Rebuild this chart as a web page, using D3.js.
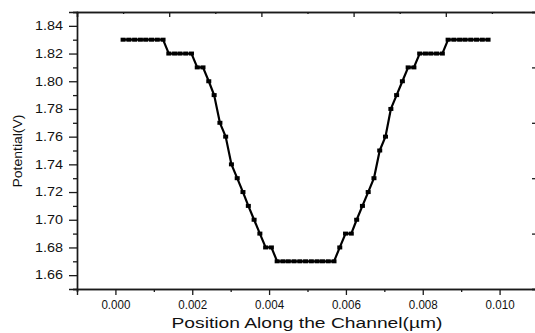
<!DOCTYPE html>
<html>
<head>
<meta charset="utf-8">
<script src="https://cdn.jsdelivr.net/npm/d3@7/dist/d3.min.js"></script>
<style>
  html, body { margin: 0; padding: 0; background: #fff; }
  svg { display: block; }
  text { font-family: "Liberation Sans", Arial, sans-serif; fill: #111; }
</style>
</head>
<body>
<svg id="chart" width="535" height="333"></svg>
<script>
// Channel position (µm) of each simulation node
const positions = [
  0.00020, 0.00035, 0.00050, 0.00065, 0.00079, 0.00094, 0.00109, 0.00124,
  0.00139, 0.00154, 0.00168, 0.00183, 0.00198, 0.00213, 0.00228, 0.00243,
  0.00257, 0.00272, 0.00287, 0.00302, 0.00317, 0.00332, 0.00346, 0.00361,
  0.00376, 0.00391, 0.00406, 0.00421, 0.00436, 0.00450, 0.00465, 0.00480,
  0.00495, 0.00510, 0.00525, 0.00539, 0.00554, 0.00569, 0.00584, 0.00599,
  0.00614, 0.00628, 0.00643, 0.00658, 0.00673, 0.00688, 0.00703, 0.00717,
  0.00732, 0.00747, 0.00762, 0.00777, 0.00792, 0.00807, 0.00821, 0.00836,
  0.00851, 0.00866, 0.00881, 0.00896, 0.00910, 0.00925, 0.00940, 0.00955,
  0.00970
];
// Surface potential (V) at each node
const potential = [
  1.83, 1.83, 1.83, 1.83, 1.83, 1.83, 1.83, 1.83,
  1.82, 1.82, 1.82, 1.82, 1.82, 1.81, 1.81, 1.80,
  1.79, 1.77, 1.76, 1.74, 1.73, 1.72, 1.71, 1.70,
  1.69, 1.68, 1.68, 1.67, 1.67, 1.67, 1.67, 1.67,
  1.67, 1.67, 1.67, 1.67, 1.67, 1.67, 1.68, 1.69,
  1.69, 1.70, 1.71, 1.72, 1.73, 1.75, 1.76, 1.78,
  1.79, 1.80, 1.81, 1.81, 1.82, 1.82, 1.82, 1.82,
  1.82, 1.83, 1.83, 1.83, 1.83, 1.83, 1.83, 1.83,
  1.83
];

// Axis tick values and labels
const xMajorTicks = [0.000, 0.002, 0.004, 0.006, 0.008, 0.010];
const xMinorTicks = [-0.001, 0.001, 0.003, 0.005, 0.007, 0.009, 0.011];
const yMajorTicks = [1.66, 1.68, 1.70, 1.72, 1.74, 1.76, 1.78, 1.80, 1.82, 1.84];
const yMinorTicks = [1.65, 1.67, 1.69, 1.71, 1.73, 1.75, 1.77, 1.79, 1.81, 1.83, 1.85];
// Unlabelled opposite axes (top / right frame ticks)
const frameMajorTicks = [0, 1, 2, 3, 4, 5];
const frameMinorTicks = [0.5, 1.5, 2.5, 3.5, 4.5];

const xTitle = "Position Along the Channel(µm)";
const yTitle = "Potential(V)";

const svg = d3.select("#chart");
const plotLeft = 77, plotRight = 538, plotTop = 12, plotBottom = 289;

const x = d3.scaleLinear().domain([-0.001, 0.011]).range([plotLeft, plotRight]);
const y = d3.scaleLinear().domain([1.65, 1.85]).range([plotBottom, plotTop]);
const xTop = d3.scaleLinear().domain([0, 5]).range([plotLeft, plotRight]);
const yRight = d3.scaleLinear().domain([0, 5]).range([plotTop, plotBottom]);

function styleAxis(g) {
  g.select(".domain").attr("stroke", "#1a1a1a").attr("stroke-width", 1.4);
  g.selectAll(".tick line").attr("stroke", "#1a1a1a").attr("stroke-width", 1.3);
}

// Bottom axis
svg.append("g").attr("transform", `translate(0,${plotBottom})`)
  .call(d3.axisBottom(x).tickValues(xMinorTicks).tickSize(3).tickFormat(""))
  .call(styleAxis);
const gxb = svg.append("g").attr("transform", `translate(0,${plotBottom})`)
  .call(d3.axisBottom(x).tickValues(xMajorTicks).tickSize(6).tickPadding(5)
    .tickFormat(d3.format(".3f")))
  .call(styleAxis);
gxb.selectAll(".tick text")
  .attr("font-size", 12)
  .attr("font-family", "Liberation Sans, Arial, sans-serif")
  .attr("fill", "#111")
  .attr("textLength", 29).attr("lengthAdjust", "spacingAndGlyphs");

// Left axis
svg.append("g").attr("transform", `translate(${plotLeft},0)`)
  .call(d3.axisLeft(y).tickValues(yMinorTicks).tickSize(4).tickFormat(""))
  .call(styleAxis);
const gyl = svg.append("g").attr("transform", `translate(${plotLeft},0)`)
  .call(d3.axisLeft(y).tickValues(yMajorTicks).tickSize(8).tickPadding(6)
    .tickFormat(d3.format(".2f")))
  .call(styleAxis);
gyl.selectAll(".tick text")
  .attr("font-size", 12)
  .attr("font-family", "Liberation Sans, Arial, sans-serif")
  .attr("fill", "#111")
  .attr("textLength", 28).attr("lengthAdjust", "spacingAndGlyphs");

// Top frame axis (ticks pointing inward)
svg.append("g").attr("transform", `translate(0,${plotTop})`)
  .call(d3.axisBottom(xTop).tickValues(frameMinorTicks).tickSize(2).tickFormat(""))
  .call(styleAxis);
svg.append("g").attr("transform", `translate(0,${plotTop})`)
  .call(d3.axisBottom(xTop).tickValues(frameMajorTicks).tickSize(5).tickFormat(""))
  .call(styleAxis);

// Right frame axis (ticks pointing inward)
svg.append("g").attr("transform", `translate(${plotRight},0)`)
  .call(d3.axisLeft(yRight).tickValues(frameMinorTicks).tickSize(3).tickFormat(""))
  .call(styleAxis);
svg.append("g").attr("transform", `translate(${plotRight},0)`)
  .call(d3.axisLeft(yRight).tickValues(frameMajorTicks).tickSize(6).tickFormat(""))
  .call(styleAxis);

// Potential profile line
const data = positions.map((p, i) => ({ p, v: potential[i] }));
svg.append("path")
  .datum(data)
  .attr("fill", "none")
  .attr("stroke", "#000")
  .attr("stroke-width", 2.2)
  .attr("stroke-linejoin", "round")
  .attr("d", d3.line().x(d => x(d.p)).y(d => y(d.v)));

// Square markers (slightly wider than tall)
const mw = 5, mh = 4;
svg.append("g").selectAll("rect")
  .data(data)
  .join("rect")
  .attr("x", d => x(d.p) - mw / 2)
  .attr("y", d => y(d.v) - mh / 2)
  .attr("width", mw)
  .attr("height", mh)
  .attr("fill", "#000");

// Axis titles
svg.append("text")
  .attr("x", 307)
  .attr("y", 328)
  .attr("text-anchor", "middle")
  .attr("font-size", 14)
  .attr("textLength", 271).attr("lengthAdjust", "spacingAndGlyphs")
  .text(xTitle);

svg.append("text")
  .attr("transform", "translate(22,151) rotate(-90)")
  .attr("text-anchor", "middle")
  .attr("font-size", 13.5)
  .attr("textLength", 73).attr("lengthAdjust", "spacingAndGlyphs")
  .text(yTitle);
</script>
</body>
</html>
